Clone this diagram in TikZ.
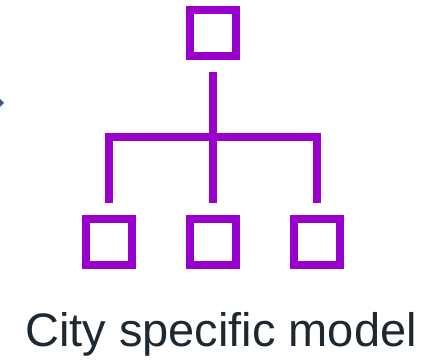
\documentclass[tikz,border=0pt]{standalone}
\usepackage{fontspec}
\setmainfont{Liberation Sans}
\definecolor{purp}{RGB}{153,0,204}
\definecolor{txt}{RGB}{30,40,51}
\definecolor{tip}{RGB}{60,90,140}
\begin{document}
\begin{tikzpicture}[x=1pt,y=-1pt,
  box/.style={draw=purp,line width=8pt,minimum size=46pt,inner sep=0pt,outer sep=4pt},
  conn/.style={draw=purp,line width=8pt,line join=miter}]
\useasboundingbox (0,0) rectangle (426,363);
\node[box] (top) at (213,33) {};
\node[box] (b1) at (109,241.7) {};
\node[box] (b2) at (213,241.7) {};
\node[box] (b3) at (317,241.7) {};
\coordinate (j) at (213,137.5);
\draw[conn,shorten <=12pt,shorten >=12pt] (top) -- (b2);
\draw[conn] ([yshift=12pt]b1.north) |- (j) -| ([yshift=12pt]b3.north);
\fill[tip] (-2,97) -- (4,103) -- (-2,109) -- cycle;
\node[anchor=base,text=txt,font=\fontsize{47}{56}\selectfont,inner sep=0pt] (lbl) at (221,347) {City specific model};
\end{tikzpicture}
\end{document}
